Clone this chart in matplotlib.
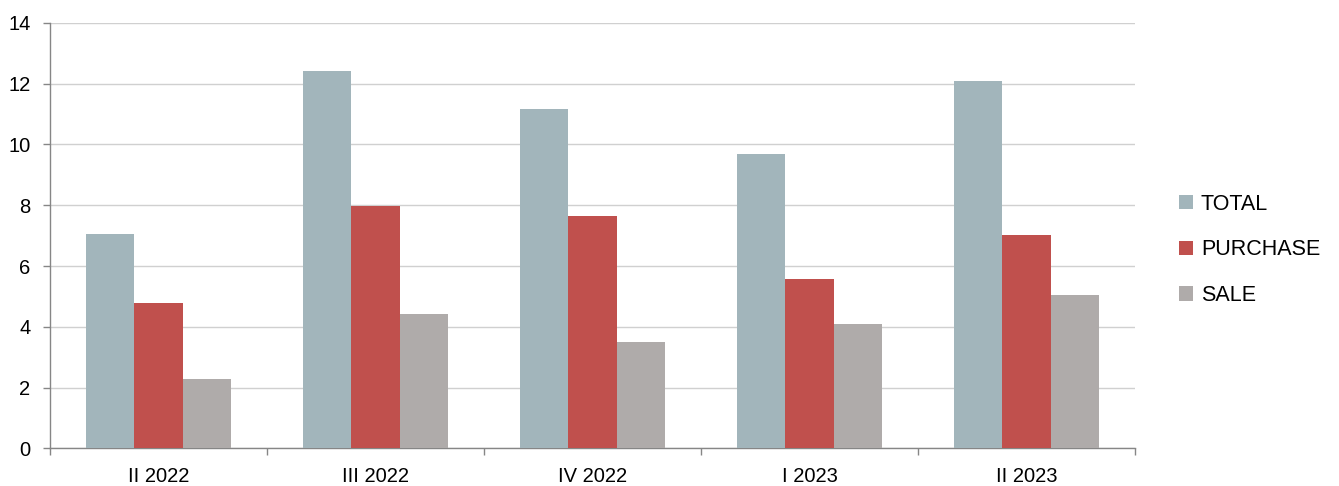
import numpy as np
import matplotlib
matplotlib.use('Agg')
import matplotlib.pyplot as plt

plt.rcParams['font.family'] = ['Liberation Sans', 'DejaVu Sans']

quarters = ['II 2022', 'III 2022', 'IV 2022', 'I 2023', 'II 2023']
total = [7.05, 12.4, 11.15, 9.67, 12.1]
purchase = [4.78, 7.98, 7.65, 5.58, 7.02]
sale = [2.27, 4.43, 3.5, 4.1, 5.06]

series = [('TOTAL', total, '#A2B5BB'),
          ('PURCHASE', purchase, '#C0504D'),
          ('SALE', sale, '#AFABAA')]

fig = plt.figure(figsize=(13.39, 4.86), dpi=100)
ax = fig.add_axes([0.0373, 0.0772, 0.8104, 0.8758])

x = np.arange(len(quarters))
w = 0.222
for i, (name, vals, col) in enumerate(series):
    ax.bar(x + (i - 1) * w, vals, width=w, color=col, label=name, zorder=3)

ax.set_xlim(-0.5, len(quarters) - 0.5)
ax.set_ylim(0, 14)
ax.set_yticks(range(0, 15, 2))
ax.set_xticks(x)
ax.set_xticklabels(quarters)
ax.set_xticks(np.arange(-0.5, len(quarters), 1), minor=True)
ax.tick_params(axis='x', which='major', length=0, pad=13, labelsize=14.5)
ax.tick_params(axis='x', which='minor', length=5, color='#868686', width=1)
ax.tick_params(axis='y', length=5, color='#868686', width=1, labelsize=14.5, pad=9)

ax.grid(axis='y', color='#D0D0D0', linewidth=1, zorder=0)
for s in ['top', 'right']:
    ax.spines[s].set_visible(False)
for s in ['left', 'bottom']:
    ax.spines[s].set_color('#868686')
    ax.spines[s].set_linewidth(1)

fig.legend(loc='center left', bbox_to_anchor=(0.8661, 0.486), frameon=False,
           fontsize=15.5, handlelength=0.65, handleheight=0.65,
           handletextpad=0.36, labelspacing=1.15)

fig.savefig('out.png', dpi=100)
